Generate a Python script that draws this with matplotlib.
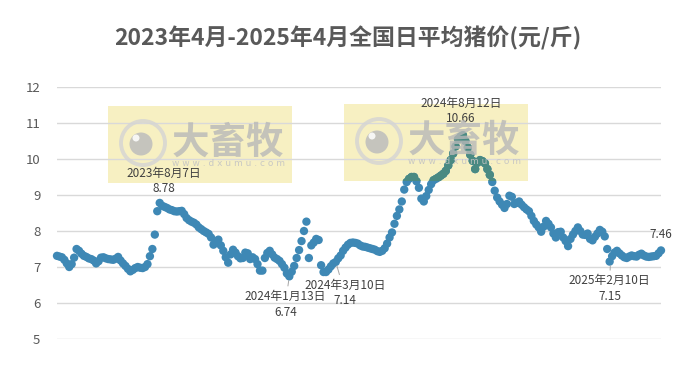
import numpy as np
import matplotlib
matplotlib.use('Agg')
import matplotlib.pyplot as plt
from matplotlib.patches import Rectangle, Ellipse

plt.rcParams['font.family'] = ['Noto Sans CJK SC', 'DejaVu Sans']

# daily average pig price (yuan / jin), one reading every 3 days from 2023-04-03
start_date = '2023-04-03'
step_days = 3
prices = [
    7.31, 7.29, 7.27, 7.20, 7.10, 7.00, 7.08, 7.26, 7.50, 7.45,
    7.37, 7.31, 7.28, 7.24, 7.22, 7.18, 7.10, 7.16, 7.26, 7.27,
    7.24, 7.22, 7.21, 7.20, 7.23, 7.28, 7.18, 7.10, 7.03, 6.95,
    6.88, 6.92, 6.97, 7.00, 6.98, 6.97, 7.00, 7.08, 7.30, 7.50,
    7.90, 8.55, 8.78, 8.70, 8.67, 8.64, 8.60, 8.58, 8.55, 8.54,
    8.55, 8.56, 8.47, 8.36, 8.30, 8.26, 8.23, 8.18, 8.10, 8.05,
    8.00, 7.96, 7.92, 7.82, 7.62, 7.72, 7.76, 7.60, 7.45, 7.27,
    7.12, 7.35, 7.48, 7.40, 7.30, 7.24, 7.25, 7.40, 7.38, 7.22,
    7.27, 7.22, 7.08, 6.90, 6.90, 7.25, 7.39, 7.45, 7.35, 7.26,
    7.22, 7.17, 7.08, 6.98, 6.82, 6.74, 6.87, 7.03, 7.25, 7.47,
    7.72, 8.00, 8.26, 7.25, 7.60, 7.68, 7.78, 7.75, 7.05, 6.86,
    6.86, 6.93, 7.02, 7.10, 7.14, 7.24, 7.32, 7.45, 7.54, 7.62,
    7.67, 7.68, 7.67, 7.65, 7.60, 7.57, 7.56, 7.54, 7.52, 7.50,
    7.48, 7.44, 7.42, 7.45, 7.52, 7.65, 7.82, 7.96, 8.20, 8.42,
    8.60, 8.82, 9.15, 9.36, 9.45, 9.50, 9.50, 9.38, 9.20, 8.90,
    8.82, 8.97, 9.14, 9.30, 9.41, 9.45, 9.49, 9.54, 9.59, 9.67,
    9.82, 9.97, 10.15, 10.35, 10.55, 10.62, 10.66, 10.50, 10.32, 10.12,
    9.95, 9.72, 9.90, 9.97, 9.94, 9.88, 9.72, 9.56, 9.36, 9.12,
    8.93, 8.82, 8.73, 8.64, 8.75, 8.98, 8.95, 8.75, 8.78, 8.82,
    8.73, 8.66, 8.60, 8.55, 8.42, 8.28, 8.18, 8.10, 7.98, 8.12,
    8.28, 8.20, 8.10, 7.93, 7.82, 7.97, 7.98, 7.82, 7.72, 7.58,
    7.78, 7.90, 8.00, 8.10, 8.00, 7.90, 7.89, 7.93, 7.78, 7.74,
    7.84, 7.93, 8.03, 7.98, 7.85, 7.50, 7.15, 7.30, 7.40, 7.45,
    7.38, 7.32, 7.27, 7.25, 7.29, 7.32, 7.30, 7.29, 7.34, 7.37,
    7.32, 7.29, 7.28, 7.29, 7.30, 7.31, 7.38, 7.46,
]

ann_dates = ['2023-08-07', '2024-01-13', '2024-03-10', '2024-08-12', '2025-02-10']
ann_values = [8.78, 6.74, 7.14, 10.66, 7.15]
ann_labels = ['2023年8月7日', '2024年1月13日', '2024年3月10日', '2024年8月12日', '2025年2月10日']

title = '2023年4月-2025年4月全国日平均猪价(元/斤)'
y_ticks = [5, 6, 7, 8, 9, 10, 11, 12]

dates = np.datetime64(start_date) + np.arange(len(prices)) * step_days

W, H = 695, 369
fig = plt.figure(figsize=(W / 100, H / 100), dpi=100)
ax = fig.add_axes([57 / W, 1 - 339 / H, 604 / W, 252 / H])
ax.set_facecolor('none')


def fx(px):
    return px / W


def fy(py):
    return 1 - py / H


# watermark boxes (yellow, behind the plot; dots inside get a tinted colour)
boxes = [(108, 106), (344, 104)]
box_w, box_h = 184, 77
clip_rects = []
for bx, by in boxes:
    r = Rectangle((fx(bx), fy(by + box_h)), box_w / W, box_h / H,
                  transform=fig.transFigure, facecolor='#f7f0c2',
                  edgecolor='none', zorder=0)
    fig.add_artist(r)
    clip_rects.append(Rectangle((fx(bx), fy(by + box_h)), box_w / W, box_h / H,
                                transform=fig.transFigure))

for y in y_ticks:
    ax.axhline(y, color='#d9d9d9', lw=1, zorder=1)

ax.scatter(dates, prices, s=36, color='#3e88b5', edgecolors='none',
           zorder=3, clip_on=False)
for cr in clip_rects:
    sc = ax.scatter(dates, prices, s=36, color='#4a8a82', edgecolors='none',
                    zorder=4, clip_on=True)
    sc.set_clip_path(cr)

# watermark graphics on top
for bx, by in boxes:
    cx, cy = bx + 35, by + 37
    fig.add_artist(Ellipse((fx(cx), fy(cy)), 44 / W, 44 / H, transform=fig.transFigure,
                           facecolor='none', edgecolor='#d4d4d4', lw=2.8, alpha=0.8, zorder=6))
    fig.add_artist(Ellipse((fx(cx - 2), fy(cy + 1)), 23 / W, 23 / H, transform=fig.transFigure,
                           facecolor='#bdbdbd', edgecolor='none', alpha=0.85, zorder=6))
    fig.add_artist(Ellipse((fx(cx - 7), fy(cy - 5)), 7 / W, 7 / H, transform=fig.transFigure,
                           facecolor='white', edgecolor='none', alpha=0.85, zorder=7))
    fig.text(fx(bx + 120), fy(by + 36), '大畜牧', fontsize=27, fontweight='bold',
             color='#b8b8b8', alpha=0.8, ha='center', va='center', zorder=6)
    fig.text(fx(bx + 120), fy(by + 58), 'w w w . d x u m u . c o m', fontsize=6.5,
             color='#c4c4c4', alpha=0.9, ha='center', va='center', zorder=6,
             family='DejaVu Sans')

# annotations
offsets = [(4, 22), (-4, -28), (9, -31), (-1, 24), (-1, -27)]
leaders = [False, True, True, False, True]
for d, v, lab, off, lead in zip(ann_dates, ann_values, ann_labels, offsets, leaders):
    arrow = dict(arrowstyle='-', color='#a6a6a6', lw=0.7, shrinkA=1, shrinkB=3) if lead else None
    ax.annotate(f'{lab}\n{v:.2f}', xy=(np.datetime64(d), v), xytext=off,
                textcoords='offset pixels', ha='center', va='center',
                fontsize=8.5, color='#404040', linespacing=1.25,
                arrowprops=arrow, zorder=8, annotation_clip=False)
ax.annotate(f'{prices[-1]:.2f}', xy=(dates[-1], prices[-1]), xytext=(0, 16),
            textcoords='offset pixels', ha='center', va='center',
            fontsize=8.5, color='#404040', zorder=8, annotation_clip=False)

ax.set_xlim(dates[0], dates[-1])
ax.set_ylim(5, 12)
ax.set_yticks(y_ticks)
ax.set_yticklabels([str(t) for t in y_ticks], fontsize=9.5, color='#595959')
ax.set_xticks([])
ax.tick_params(axis='y', length=0, pad=12)
for s in ax.spines.values():
    s.set_visible(False)

fig.text(0.5, fy(38), title, fontsize=16.5, fontweight='bold', color='#595959',
         ha='center', va='center')

fig.savefig('out.png', dpi=100, facecolor='white')
